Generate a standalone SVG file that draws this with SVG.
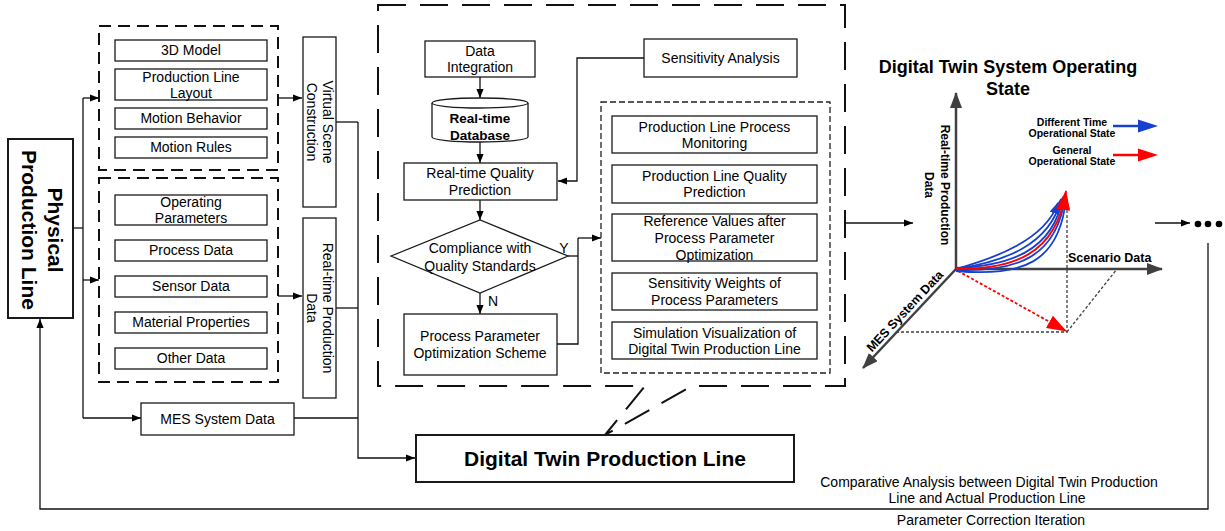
<svg xmlns="http://www.w3.org/2000/svg" width="1225" height="531" viewBox="0 0 1225 531">
  <style>
    .bx{fill:#fff;stroke:#1a1a1a;stroke-width:1.3}
    .bxb{fill:#fff;stroke:#1a1a1a;stroke-width:2}
    .grp{fill:none;stroke:#111;stroke-width:2;stroke-dasharray:12 7}
    .big{fill:none;stroke:#111;stroke-width:2;stroke-dasharray:28 14}
    .sub{fill:none;stroke:#222;stroke-width:1.3;stroke-dasharray:6 3}
    .ln{fill:none;stroke:#111;stroke-width:1.3}
    .ar{marker-end:url(#ah)}
    text{font-family:"Liberation Sans",Arial,sans-serif;fill:#000}
    .t{font-size:14px;text-anchor:middle}
    .bold{font-weight:bold}
    .axis{fill:none;stroke:#404040;stroke-width:2.5;marker-end:url(#ga)}
    .guide{fill:none;stroke:#404040;stroke-width:1.3;stroke-dasharray:3 2}
    .blue{fill:none;stroke:#1540d0;stroke-width:1.8;marker-end:url(#ba)}
  </style>
  <defs>
    <marker id="ah" viewBox="0 0 10 10" refX="10" refY="5" markerWidth="9" markerHeight="9" markerUnits="userSpaceOnUse" orient="auto">
      <path d="M0,1 L10,5 L0,9 z" fill="#000"/>
    </marker>
    <marker id="ga" viewBox="0 0 16 12" refX="15" refY="6" markerWidth="16" markerHeight="12" markerUnits="userSpaceOnUse" orient="auto">
      <path d="M0,0 L16,6 L0,12 z" fill="#404040"/>
    </marker>
    <marker id="ba" viewBox="0 0 12 10" refX="11" refY="5" markerWidth="12" markerHeight="10" markerUnits="userSpaceOnUse" orient="auto">
      <path d="M0,0 L12,5 L0,10 z" fill="#1540d0"/>
    </marker>
    <marker id="ra" viewBox="0 0 20 14" refX="19" refY="7" markerWidth="20" markerHeight="14" markerUnits="userSpaceOnUse" orient="auto">
      <path d="M0,0 L20,7 L0,14 z" fill="#ff0000"/>
    </marker>
  </defs>

  <!-- connectors -->
  <g id="connectors">
    <polyline class="ln" points="73,228 83,228"/>
    <polyline class="ln" points="83,98 83,418"/>
    <polyline class="ln ar" points="83,98 99,98"/>
    <polyline class="ln ar" points="83,280 99,280"/>
    <polyline class="ln ar" points="83,418 141,418"/>
    <polyline class="ln ar" points="278,98 302,98"/>
    <polyline class="ln ar" points="278,296 302,296"/>
    <polyline class="ln" points="336,122 358,122"/>
    <polyline class="ln" points="336,308 358,308"/>
    <polyline class="ln" points="294,418 358,418"/>
    <polyline class="ln ar" points="358,122 358,458 415,458"/>
    <polyline class="ln ar" points="480,77 480,98"/>
    <polyline class="ln ar" points="480,142 480,163"/>
    <polyline class="ln ar" points="480,200 480,220"/>
    <polyline class="ln ar" points="480,293 480,314"/>
    <polyline class="ln ar" points="644,58 577,58 577,181 558,181"/>
    <polyline class="ln" points="568,256 578,256"/>
    <polyline class="ln" points="557,344 578,344 578,238"/>
    <polyline class="ln ar" points="578,238 601,238"/>
    <polyline class="ln ar" points="846,223 913,223"/>
    <polyline class="ln ar" points="1155,223 1190,223"/>
    <polyline class="ln ar" points="1208,243 1208,509 40,509 40,319"/>
    <text x="564" y="253" class="t">Y</text>
    <text x="493" y="306" class="t">N</text>
  </g>

  <!-- physical production line -->
  <g id="physical">
    <rect x="8" y="139" width="65" height="179" class="bxb"/>
    <text transform="translate(48,230) rotate(90)" class="bold" style="font-size:21px;text-anchor:middle">Physical</text>
    <text transform="translate(22,230) rotate(90)" class="bold" style="font-size:21px;text-anchor:middle">Production Line</text>
  </g>

  <!-- virtual scene inputs -->
  <g id="scene-group">
    <rect x="99" y="26" width="179" height="144" class="grp"/>
    <rect x="115" y="40" width="152" height="21" class="bx"/>
    <text x="191" y="55" class="t">3D Model</text>
    <rect x="115" y="69" width="152" height="31" class="bx"/>
    <text x="191" y="82" class="t">Production Line</text>
    <text x="191" y="98" class="t">Layout</text>
    <rect x="115" y="108" width="152" height="21" class="bx"/>
    <text x="191" y="123" class="t">Motion Behavior</text>
    <rect x="115" y="137" width="152" height="21" class="bx"/>
    <text x="191" y="152" class="t">Motion Rules</text>
  </g>

  <!-- real-time data inputs -->
  <g id="data-group">
    <rect x="99" y="178" width="179" height="204" class="grp"/>
    <rect x="115" y="195" width="152" height="30" class="bx"/>
    <text x="191" y="207" class="t">Operating</text>
    <text x="191" y="223" class="t">Parameters</text>
    <rect x="115" y="240" width="152" height="21" class="bx"/>
    <text x="191" y="255" class="t">Process Data</text>
    <rect x="115" y="276" width="152" height="21" class="bx"/>
    <text x="191" y="291" class="t">Sensor Data</text>
    <rect x="115" y="312" width="152" height="21" class="bx"/>
    <text x="191" y="327" class="t">Material Properties</text>
    <rect x="115" y="348" width="152" height="21" class="bx"/>
    <text x="191" y="363" class="t">Other Data</text>
  </g>

  <g id="mes">
    <rect x="141" y="403" width="153" height="32" class="bx"/>
    <text x="217.5" y="424" class="t">MES System Data</text>
  </g>

  <g id="virtual-scene">
    <rect x="303" y="37" width="33" height="170" class="bx"/>
    <text transform="translate(323,122) rotate(90)" class="t">Virtual Scene</text>
    <text transform="translate(307,122) rotate(90)" class="t">Construction</text>
  </g>

  <g id="realtime-data">
    <rect x="303" y="218" width="33" height="180" class="bx"/>
    <text transform="translate(323,308) rotate(90)" class="t">Real-time Production</text>
    <text transform="translate(307,308) rotate(90)" class="t">Data</text>
  </g>

  <!-- twin model container with callout -->
  <g id="twin-model">
    <path d="M378,5 H845 V386 H692 L605,435 L645,386 H378 Z" class="big"/>

    <rect x="425" y="41" width="110" height="36" class="bx"/>
    <text x="480" y="56" class="t">Data</text>
    <text x="480" y="72" class="t">Integration</text>

    <path d="M432,103 V137 A48,5 0 0 0 528,137 V103" class="bx"/>
    <ellipse cx="480" cy="103" rx="48" ry="5" class="bx"/>
    <text x="480" y="123" class="t bold" style="font-size:13.5px">Real-time</text>
    <text x="480" y="140" class="t bold" style="font-size:13.5px">Database</text>

    <rect x="404" y="163" width="153" height="37" class="bx"/>
    <text x="480" y="178" class="t">Real-time Quality</text>
    <text x="480" y="195" class="t">Prediction</text>

    <polygon points="391,256 480,220 568,256 480,293" class="bx"/>
    <text x="480" y="253" class="t">Compliance with</text>
    <text x="480" y="271" class="t">Quality Standards</text>

    <rect x="404" y="314" width="153" height="61" class="bx"/>
    <text x="480" y="341" class="t">Process Parameter</text>
    <text x="480" y="358" class="t">Optimization Scheme</text>

    <rect x="644" y="39" width="153" height="38" class="bx"/>
    <text x="720.5" y="63" class="t">Sensitivity Analysis</text>
  </g>

  <g id="outputs">
    <rect x="601" y="102" width="229" height="271" class="sub"/>
    <rect x="612" y="116" width="205" height="37" class="bx"/>
    <text x="714.5" y="132" class="t">Production Line Process</text>
    <text x="714.5" y="148" class="t">Monitoring</text>
    <rect x="612" y="165" width="205" height="38" class="bx"/>
    <text x="714.5" y="181" class="t">Production Line Quality</text>
    <text x="714.5" y="197" class="t">Prediction</text>
    <rect x="612" y="214" width="205" height="47" class="bx"/>
    <text x="714.5" y="226" class="t">Reference Values after</text>
    <text x="714.5" y="243" class="t">Process Parameter</text>
    <text x="714.5" y="260" class="t">Optimization</text>
    <rect x="612" y="273" width="205" height="37" class="bx"/>
    <text x="714.5" y="288" class="t">Sensitivity Weights of</text>
    <text x="714.5" y="305" class="t">Process Parameters</text>
    <rect x="612" y="322" width="205" height="37" class="bx"/>
    <text x="714.5" y="338" class="t">Simulation Visualization of</text>
    <text x="714.5" y="354" class="t">Digital Twin Production Line</text>
  </g>

  <g id="digital-twin">
    <rect x="416" y="435" width="378" height="47" class="bxb"/>
    <text x="605" y="465.5" class="bold" style="font-size:21px;text-anchor:middle">Digital Twin Production Line</text>
  </g>

  <!-- operating state chart -->
  <g id="state-chart">
    <text x="1008" y="73" class="bold" style="font-size:18px;text-anchor:middle">Digital Twin System Operating</text>
    <text x="1008" y="95" class="bold" style="font-size:18px;text-anchor:middle">State</text>

    <polyline class="guide" points="1067,200 1067,332 897,332"/>
    <polyline class="guide" points="1067,332 1117,269"/>

    <line x1="956" y1="269" x2="956" y2="93" class="axis"/>
    <line x1="956" y1="269" x2="1162" y2="269" class="axis"/>
    <line x1="956" y1="269" x2="863" y2="368" class="axis"/>

    <text transform="translate(941,185) rotate(90)" class="bold" style="font-size:12px;text-anchor:middle">Real-time Production</text>
    <text transform="translate(925,185) rotate(90)" class="bold" style="font-size:12px;text-anchor:middle">Data</text>
    <text x="1068" y="262" class="bold" style="font-size:12.5px">Scenario Data</text>
    <text transform="translate(908,314) rotate(-47)" class="bold" style="font-size:12.5px;text-anchor:middle">MES System Data</text>

    <line x1="958" y1="271" x2="1066" y2="331" stroke="#ff0000" stroke-width="1.8" stroke-dasharray="3 2" marker-end="url(#ra)"/>

    <path class="blue" d="M956,269 C995,258 1045,240 1058,203"/>
    <path class="blue" d="M956,269 C1002,262 1050,246 1061,199"/>
    <path class="blue" d="M956,268 C1008,266 1053,252 1063,197"/>
    <path class="blue" d="M956,270 C1016,272 1057,258 1065,197"/>
    <path class="blue" d="M956,271 C1022,277 1060,263 1066,198"/>
    <path d="M956,269 C1012,269 1056,256 1066,191" fill="none" stroke="#ff0000" stroke-width="1.8" marker-end="url(#ra)"/>

    <text x="1072" y="125.5" class="bold" style="font-size:10.5px;text-anchor:middle">Different Time</text>
    <text x="1072" y="136.5" class="bold" style="font-size:10.5px;text-anchor:middle">Operational State</text>
    <line x1="1113" y1="126" x2="1140" y2="126" stroke="#1540d0" stroke-width="2.5"/>
    <polygon points="1138,119.5 1158,126 1138,132.5" fill="#1540d0"/>
    <text x="1072" y="154" class="bold" style="font-size:10.5px;text-anchor:middle">General</text>
    <text x="1072" y="164.5" class="bold" style="font-size:10.5px;text-anchor:middle">Operational State</text>
    <line x1="1113" y1="155" x2="1140" y2="155" stroke="#ff0000" stroke-width="2.5"/>
    <polygon points="1138,148.5 1158,155 1138,161.5" fill="#ff0000"/>
  </g>

  <g id="continuation">
    <circle cx="1198" cy="224" r="3.3" fill="#000"/>
    <circle cx="1208" cy="224" r="3.3" fill="#000"/>
    <circle cx="1219" cy="224" r="3.3" fill="#000"/>
  </g>

  <g id="feedback-labels">
    <text x="989" y="487" class="t">Comparative Analysis between Digital Twin Production</text>
    <text x="987" y="503" class="t">Line and Actual Production Line</text>
    <text x="991" y="525" class="t">Parameter Correction Iteration</text>
  </g>
</svg>
